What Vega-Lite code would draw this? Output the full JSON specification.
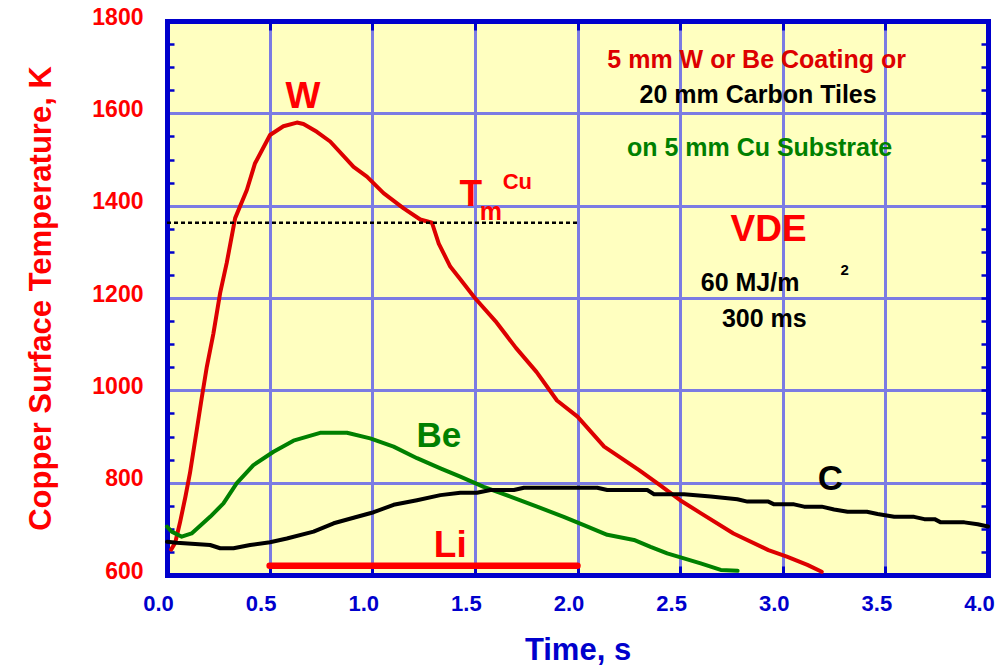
{
  "$schema": "https://vega.github.io/schema/vega-lite/v6.json",
  "width": 821,
  "height": 554,
  "autosize": "none",
  "padding": {"left": 167, "top": 21, "right": 20, "bottom": 92},
  "background": "white",
  "config": {
    "font": "Liberation Sans",
    "view": {"fill": "#FFFFC0", "stroke": null},
    "axis": {"labelFont": "Liberation Sans", "titleFont": "Liberation Sans", "labelFlush": false, "labelOverlap": false, "labelBound": false}
  },
  "resolve": {"axis": {"x": "independent", "y": "independent"}},
  "layer": [
    {
      "data": {"values": [
        {"series": "W", "t": 0.02, "T": 655}, {"series": "W", "t": 0.04, "T": 670}, {"series": "W", "t": 0.063, "T": 713}, {"series": "W", "t": 0.09, "T": 770},
        {"series": "W", "t": 0.112, "T": 821}, {"series": "W", "t": 0.145, "T": 914}, {"series": "W", "t": 0.169, "T": 983},
        {"series": "W", "t": 0.194, "T": 1051}, {"series": "W", "t": 0.226, "T": 1123}, {"series": "W", "t": 0.259, "T": 1211},
        {"series": "W", "t": 0.291, "T": 1276}, {"series": "W", "t": 0.332, "T": 1373}, {"series": "W", "t": 0.389, "T": 1434},
        {"series": "W", "t": 0.429, "T": 1492}, {"series": "W", "t": 0.502, "T": 1553}, {"series": "W", "t": 0.567, "T": 1572},
        {"series": "W", "t": 0.633, "T": 1580}, {"series": "W", "t": 0.665, "T": 1577}, {"series": "W", "t": 0.73, "T": 1560},
        {"series": "W", "t": 0.795, "T": 1539}, {"series": "W", "t": 0.909, "T": 1484}, {"series": "W", "t": 0.974, "T": 1463},
        {"series": "W", "t": 1.055, "T": 1427}, {"series": "W", "t": 1.153, "T": 1394}, {"series": "W", "t": 1.234, "T": 1370},
        {"series": "W", "t": 1.291, "T": 1363}, {"series": "W", "t": 1.324, "T": 1318}, {"series": "W", "t": 1.38, "T": 1268},
        {"series": "W", "t": 1.43, "T": 1240}, {"series": "W", "t": 1.5, "T": 1200}, {"series": "W", "t": 1.6, "T": 1150},
        {"series": "W", "t": 1.7, "T": 1092}, {"series": "W", "t": 1.8, "T": 1040}, {"series": "W", "t": 1.9, "T": 978},
        {"series": "W", "t": 2.0, "T": 943}, {"series": "W", "t": 2.13, "T": 878}, {"series": "W", "t": 2.3, "T": 827},
        {"series": "W", "t": 2.4, "T": 795}, {"series": "W", "t": 2.5, "T": 762}, {"series": "W", "t": 2.6, "T": 734},
        {"series": "W", "t": 2.76, "T": 690}, {"series": "W", "t": 2.93, "T": 654}, {"series": "W", "t": 3.02, "T": 640},
        {"series": "W", "t": 3.12, "T": 622}, {"series": "W", "t": 3.19, "T": 607},
        {"series": "Be", "t": 0.0, "T": 705}, {"series": "Be", "t": 0.023, "T": 694}, {"series": "Be", "t": 0.072, "T": 683},
        {"series": "Be", "t": 0.12, "T": 690}, {"series": "Be", "t": 0.21, "T": 726}, {"series": "Be", "t": 0.275, "T": 755},
        {"series": "Be", "t": 0.34, "T": 799}, {"series": "Be", "t": 0.421, "T": 838}, {"series": "Be", "t": 0.519, "T": 867},
        {"series": "Be", "t": 0.616, "T": 891}, {"series": "Be", "t": 0.746, "T": 908}, {"series": "Be", "t": 0.877, "T": 908},
        {"series": "Be", "t": 0.99, "T": 896}, {"series": "Be", "t": 1.104, "T": 878}, {"series": "Be", "t": 1.218, "T": 853},
        {"series": "Be", "t": 1.332, "T": 831}, {"series": "Be", "t": 1.429, "T": 813}, {"series": "Be", "t": 1.543, "T": 791},
        {"series": "Be", "t": 1.673, "T": 770}, {"series": "Be", "t": 1.803, "T": 748}, {"series": "Be", "t": 1.933, "T": 726},
        {"series": "Be", "t": 2.031, "T": 708}, {"series": "Be", "t": 2.145, "T": 687}, {"series": "Be", "t": 2.275, "T": 676},
        {"series": "Be", "t": 2.356, "T": 661}, {"series": "Be", "t": 2.437, "T": 647}, {"series": "Be", "t": 2.6, "T": 625},
        {"series": "Be", "t": 2.698, "T": 611}, {"series": "Be", "t": 2.78, "T": 609},
        {"series": "C", "t": 0.0, "T": 672}, {"series": "C", "t": 0.047, "T": 670}, {"series": "C", "t": 0.21, "T": 665},
        {"series": "C", "t": 0.259, "T": 658}, {"series": "C", "t": 0.324, "T": 658}, {"series": "C", "t": 0.405, "T": 665},
        {"series": "C", "t": 0.502, "T": 671}, {"series": "C", "t": 0.584, "T": 679}, {"series": "C", "t": 0.714, "T": 694},
        {"series": "C", "t": 0.812, "T": 712}, {"series": "C", "t": 0.909, "T": 724}, {"series": "C", "t": 1.007, "T": 736},
        {"series": "C", "t": 1.104, "T": 752}, {"series": "C", "t": 1.218, "T": 762}, {"series": "C", "t": 1.332, "T": 773},
        {"series": "C", "t": 1.429, "T": 778}, {"series": "C", "t": 1.51, "T": 778}, {"series": "C", "t": 1.576, "T": 784},
        {"series": "C", "t": 1.69, "T": 784}, {"series": "C", "t": 1.739, "T": 789}, {"series": "C", "t": 2.096, "T": 789},
        {"series": "C", "t": 2.145, "T": 784}, {"series": "C", "t": 2.34, "T": 784}, {"series": "C", "t": 2.373, "T": 775},
        {"series": "C", "t": 2.519, "T": 775}, {"series": "C", "t": 2.649, "T": 770}, {"series": "C", "t": 2.779, "T": 764},
        {"series": "C", "t": 2.828, "T": 759}, {"series": "C", "t": 2.93, "T": 759}, {"series": "C", "t": 2.958, "T": 753},
        {"series": "C", "t": 3.055, "T": 753}, {"series": "C", "t": 3.104, "T": 748}, {"series": "C", "t": 3.19, "T": 748},
        {"series": "C", "t": 3.25, "T": 742}, {"series": "C", "t": 3.316, "T": 737}, {"series": "C", "t": 3.41, "T": 737},
        {"series": "C", "t": 3.462, "T": 732}, {"series": "C", "t": 3.543, "T": 726}, {"series": "C", "t": 3.64, "T": 726},
        {"series": "C", "t": 3.69, "T": 721}, {"series": "C", "t": 3.74, "T": 721}, {"series": "C", "t": 3.77, "T": 714},
        {"series": "C", "t": 3.885, "T": 714}, {"series": "C", "t": 3.95, "T": 710}, {"series": "C", "t": 4.0, "T": 705}
      ]},
      "mark": {"type": "line", "strokeWidth": 4, "strokeJoin": "round", "strokeCap": "round"},
      "encoding": {
        "x": {"field": "t", "type": "quantitative", "scale": {"domain": [0, 4], "nice": false, "zero": false},
          "axis": {"orient": "bottom", "values": [0, 0.5, 1, 1.5, 2, 2.5, 3, 3.5, 4], "format": ".1f",
            "labelColor": "#0000CC", "labelFontSize": 22, "labelFontWeight": "bold", "labelPadding": 18, "labelOffset": -9,
            "ticks": false, "domain": true, "domainColor": "#0000CC", "domainWidth": 5, "domainCap": "square",
            "grid": true, "gridColor": "#7B7BE3", "gridWidth": 3, "gridOpacity": 1,
            "title": "Time, s", "titleColor": "#0000CC", "titleFontSize": 31, "titleFontWeight": "bold", "titlePadding": 21}},
        "y": {"field": "T", "type": "quantitative", "scale": {"domain": [600, 1800], "nice": false, "zero": false},
          "axis": {"orient": "left", "values": [600, 800, 1000, 1200, 1400, 1600, 1800], "format": "d",
            "labelColor": "#FF0000", "labelFontSize": 23, "labelFontWeight": "bold", "labelPadding": 24, "labelOffset": -4,
            "ticks": false, "domain": true, "domainColor": "#0000CC", "domainWidth": 5, "domainCap": "square",
            "grid": true, "gridColor": "#7B7BE3", "gridWidth": 3, "gridOpacity": 1,
            "title": "Copper Surface Temperature, K", "titleColor": "#FF0000", "titleFontSize": 31, "titleFontWeight": "bold", "titlePadding": 34}},
        "color": {"field": "series", "type": "nominal", "scale": {"domain": ["W", "Be", "C"], "range": ["#DD0000", "#008000", "#000000"]}, "legend": null}
      }
    },
    {
      "data": {"values": [{"t": 0.5, "T": 620}, {"t": 2.0, "T": 620}]},
      "mark": {"type": "line", "color": "#FF0000", "strokeWidth": 6.5, "strokeCap": "round"},
      "encoding": {
        "x": {"field": "t", "type": "quantitative", "scale": {"domain": [0, 4], "nice": false, "zero": false},
          "axis": {"orient": "top", "values": [0, 0.5, 1, 1.5, 2, 2.5, 3, 3.5, 4], "labels": false, "ticks": true, "tickSize": -9, "tickWidth": 3, "tickColor": "#0000CC",
            "domain": true, "domainColor": "#0000CC", "domainWidth": 5, "domainCap": "square", "grid": false, "title": null}},
        "y": {"field": "T", "type": "quantitative", "scale": {"domain": [600, 1800], "nice": false, "zero": false},
          "axis": {"orient": "left", "values": [650, 700, 750, 850, 900, 950, 1050, 1100, 1150, 1250, 1300, 1350, 1450, 1500, 1550, 1650, 1700, 1750],
            "labels": false, "ticks": true, "tickSize": -7, "tickWidth": 2.5, "tickColor": "#0000CC", "domain": false, "grid": false, "title": null}}
      }
    },
    {
      "data": {"values": [{"t": 0.0, "T": 1363}, {"t": 2.01, "T": 1363}]},
      "mark": {"type": "line", "color": "#000000", "strokeWidth": 2.3, "strokeDash": [4, 3]},
      "encoding": {
        "x": {"field": "t", "type": "quantitative", "scale": {"domain": [0, 4], "nice": false, "zero": false},
          "axis": {"orient": "bottom", "values": [0, 0.5, 1, 1.5, 2, 2.5, 3, 3.5, 4], "labels": false, "ticks": true, "tickSize": -9, "tickWidth": 3, "tickColor": "#0000CC",
            "domain": false, "grid": false, "title": null}},
        "y": {"field": "T", "type": "quantitative", "scale": {"domain": [600, 1800], "nice": false, "zero": false},
          "axis": {"orient": "right", "values": [600, 650, 700, 750, 800, 850, 900, 950, 1000, 1050, 1100, 1150, 1200, 1250, 1300, 1350, 1400, 1450, 1500, 1550, 1600, 1650, 1700, 1750, 1800],
            "labels": false, "ticks": true, "tickSize": -7, "tickWidth": 2.5, "tickColor": "#0000CC", "domain": true, "domainColor": "#0000CC", "domainWidth": 5, "domainCap": "square", "grid": false, "title": null}}
      }
    },
    {
      "data": {"values": [
        {"label": "W", "t": 0.663, "T": 1612},
        {"label": "Li", "t": 1.38, "T": 640},
        {"label": "VDE", "t": 2.931, "T": 1323},
        {"label": "T", "t": 1.48, "T": 1400}
      ]},
      "mark": {"type": "text", "color": "#FF0000", "fontSize": 37, "fontWeight": "bold", "font": "Liberation Sans", "align": "center", "baseline": "alphabetic"},
      "encoding": {
        "x": {"field": "t", "type": "quantitative", "axis": null},
        "y": {"field": "T", "type": "quantitative", "axis": null},
        "text": {"field": "label"}
      }
    },
    {
      "data": {"values": [{"label": "Be", "t": 1.324, "T": 877}]},
      "mark": {"type": "text", "color": "#008000", "fontSize": 35, "fontWeight": "bold", "font": "Liberation Sans", "align": "center", "baseline": "alphabetic"},
      "encoding": {
        "x": {"field": "t", "type": "quantitative", "axis": null},
        "y": {"field": "T", "type": "quantitative", "axis": null},
        "text": {"field": "label"}
      }
    },
    {
      "data": {"values": [{"label": "C", "t": 3.232, "T": 784}]},
      "mark": {"type": "text", "color": "#000000", "fontSize": 35, "fontWeight": "bold", "font": "Liberation Sans", "align": "center", "baseline": "alphabetic"},
      "encoding": {
        "x": {"field": "t", "type": "quantitative", "axis": null},
        "y": {"field": "T", "type": "quantitative", "axis": null},
        "text": {"field": "label"}
      }
    },
    {
      "data": {"values": [{"label": "m", "t": 1.578, "T": 1368}]},
      "mark": {"type": "text", "color": "#FF0000", "fontSize": 25, "fontWeight": "bold", "font": "Liberation Sans", "align": "center", "baseline": "alphabetic"},
      "encoding": {
        "x": {"field": "t", "type": "quantitative", "axis": null},
        "y": {"field": "T", "type": "quantitative", "axis": null},
        "text": {"field": "label"}
      }
    },
    {
      "data": {"values": [{"label": "Cu", "t": 1.707, "T": 1437}]},
      "mark": {"type": "text", "color": "#FF0000", "fontSize": 22, "fontWeight": "bold", "font": "Liberation Sans", "align": "center", "baseline": "alphabetic"},
      "encoding": {
        "x": {"field": "t", "type": "quantitative", "axis": null},
        "y": {"field": "T", "type": "quantitative", "axis": null},
        "text": {"field": "label"}
      }
    },
    {
      "data": {"values": [{"label": "5 mm W or Be Coating or", "t": 2.873, "T": 1699}]},
      "mark": {"type": "text", "color": "#DD0000", "fontSize": 25, "fontWeight": "bold", "font": "Liberation Sans", "align": "center", "baseline": "alphabetic"},
      "encoding": {
        "x": {"field": "t", "type": "quantitative", "axis": null},
        "y": {"field": "T", "type": "quantitative", "axis": null},
        "text": {"field": "label"}
      }
    },
    {
      "data": {"values": [
        {"label": "20 mm Carbon Tiles", "t": 2.88, "T": 1623},
        {"label": "60 MJ/m", "t": 2.841, "T": 1216},
        {"label": "300 ms", "t": 2.91, "T": 1138}
      ]},
      "mark": {"type": "text", "color": "#000000", "fontSize": 25, "fontWeight": "bold", "font": "Liberation Sans", "align": "center", "baseline": "alphabetic"},
      "encoding": {
        "x": {"field": "t", "type": "quantitative", "axis": null},
        "y": {"field": "T", "type": "quantitative", "axis": null},
        "text": {"field": "label"}
      }
    },
    {
      "data": {"values": [{"label": "on 5 mm Cu Substrate", "t": 2.887, "T": 1508}]},
      "mark": {"type": "text", "color": "#008000", "fontSize": 25, "fontWeight": "bold", "font": "Liberation Sans", "align": "center", "baseline": "alphabetic"},
      "encoding": {
        "x": {"field": "t", "type": "quantitative", "axis": null},
        "y": {"field": "T", "type": "quantitative", "axis": null},
        "text": {"field": "label"}
      }
    },
    {
      "data": {"values": [{"label": "2", "t": 3.302, "T": 1249}]},
      "mark": {"type": "text", "color": "#000000", "fontSize": 15, "fontWeight": "bold", "font": "Liberation Sans", "align": "center", "baseline": "alphabetic"},
      "encoding": {
        "x": {"field": "t", "type": "quantitative", "axis": null},
        "y": {"field": "T", "type": "quantitative", "axis": null},
        "text": {"field": "label"}
      }
    }
  ]
}
